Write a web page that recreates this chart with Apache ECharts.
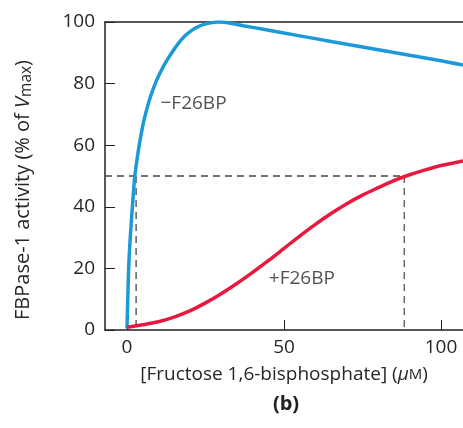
<!DOCTYPE html>
<html><head><meta charset="utf-8">
<script src="https://cdn.jsdelivr.net/npm/echarts@6/dist/echarts.min.js"></script>
<style>html,body{margin:0;padding:0;background:#fff}#c{width:463px;height:428px}</style>
</head><body><div id="c"></div>
<script>
// Blue: -F26BP (x: [Fructose 1,6-bisphosphate] µM, y: % of Vmax)
const minusF26BP_x = [0, 0.3, 0.6, 1.2, 1.8, 2.5, 3.5, 4.5, 5.5, 6.8, 8, 9.5, 11, 12.1, 14, 16.3, 18.5, 20.6, 22.7, 24.8, 27, 29, 31, 33.5, 37, 43, 50, 60, 70, 80, 90, 100, 107];
const minusF26BP_y = [0.5, 12, 21.7, 32.5, 41, 50, 57.5, 63.5, 68.5, 73.5, 77.3, 81.2, 84.4, 86.5, 89.6, 93, 95.5, 97.3, 98.5, 99.3, 99.8, 100, 99.9, 99.5, 98.8, 97.7, 96.4, 94.6, 92.8, 91, 89.2, 87.4, 86];
// Red: +F26BP
const plusF26BP_x = [0, 5, 10, 15, 20, 25, 30, 35, 40, 45, 50, 55, 60, 65, 70, 75, 80, 85, 90, 95, 100, 107];
const plusF26BP_y = [0.9, 1.7, 2.7, 4.2, 6.2, 8.8, 11.8, 15.1, 18.7, 22.5, 26.5, 30.5, 34.3, 37.8, 41.0, 43.8, 46.2, 48.5, 50.4, 52.0, 53.4, 54.9];
// Half-maximal guides
const halfLevel = 50;
const halfX = [2.9, 88.3];
const xTicks = [0, 50, 100];
const yTicks = [0, 20, 40, 60, 80, 100];
// Curve labels (anchor in data coords)
const curveLabels = [['−F26BP', 10.5, 73.6], ['+F26BP', 45, 16.8]];

const font = 'Open Sans';
const axisColor = '#231f20';
const textColor = '#262626';
const pair = (xs, ys) => xs.map((x, i) => [x, ys[i]]);
const xMin = -7, xMax = 107;

const chart = echarts.init(document.getElementById('c'), null, {renderer: 'canvas'});
chart.setOption({
  animation: false,
  textStyle: {fontFamily: font},
  grid: {left: 105, top: 22, right: 0, bottom: 98, containLabel: false},
  title: {
    text: '(b)', left: 281, top: 389, textAlign: 'center',
    textStyle: {fontFamily: font, fontWeight: 'bold', fontSize: 20, color: '#231f20'}
  },
  xAxis: [{
    type: 'value', min: xMin, max: xMax, position: 'bottom',
    axisLine: {show: true, onZero: false, lineStyle: {color: axisColor, width: 1.5}},
    axisTick: {show: true, inside: true, length: 10, customValues: xTicks, lineStyle: {color: axisColor, width: 1}},
    axisLabel: {show: true, customValues: xTicks, margin: 8, fontSize: 19, color: textColor, fontFamily: font},
    splitLine: {show: false},
    name: '[Fructose 1,6-bisphosphate] ({i|μ}{m|M})',
    nameLocation: 'middle', nameGap: 35,
    nameTextStyle: {fontSize: 19, color: textColor, fontFamily: font,
      rich: {i: {fontSize: 19, fontStyle: 'italic', color: textColor, fontFamily: font},
             m: {fontSize: 15, color: textColor, fontFamily: font}}}
  }, {
    type: 'value', min: xMin, max: xMax, position: 'top',
    axisLine: {show: true, onZero: false, lineStyle: {color: axisColor, width: 1.5}},
    axisTick: {show: false}, axisLabel: {show: false}, splitLine: {show: false}
  }],
  yAxis: {
    type: 'value', min: 0, max: 100, interval: 20,
    axisLine: {show: true, onZero: false, lineStyle: {color: axisColor, width: 1.5}},
    axisTick: {show: true, inside: true, length: 10, lineStyle: {color: axisColor, width: 1}},
    axisLabel: {margin: 10, fontSize: 19, color: textColor, fontFamily: font},
    splitLine: {show: false},
    name: 'FBPase-1 activity (% of {i|V}{s|max})',
    nameLocation: 'middle', nameGap: 70, nameRotate: 90,
    nameTextStyle: {fontSize: 20, color: textColor, fontFamily: font, padding: [0, 28, 0, 0],
      rich: {i: {fontSize: 20, fontStyle: 'italic', color: textColor, fontFamily: font},
             s: {fontSize: 15.5, color: textColor, fontFamily: font, padding: [8, 0, 0, 0]}}}
  },
  series: [
    {
      type: 'line', data: [[xMin, halfLevel], [halfX[1], halfLevel]], symbol: 'none', silent: true,
      lineStyle: {color: '#444', width: 1.3, type: [7, 5]}, z: 1
    },
    {
      type: 'line', data: [[halfX[0], halfLevel], [halfX[0], 0]], symbol: 'none', silent: true,
      lineStyle: {color: '#444', width: 1.3, type: [7, 5]}, z: 1
    },
    {
      type: 'line', data: [[halfX[1], halfLevel], [halfX[1], 0]], symbol: 'none', silent: true,
      lineStyle: {color: '#555', width: 1.3, type: [7, 5]}, z: 1
    },
    {
      name: '−F26BP', type: 'line', data: pair(minusF26BP_x, minusF26BP_y),
      smooth: 0.3, symbol: 'none',
      lineStyle: {color: '#1b9ad7', width: 3.5}, z: 3
    },
    {
      name: '+F26BP', type: 'line', data: pair(plusF26BP_x, plusF26BP_y),
      smooth: 0.3, symbol: 'none',
      lineStyle: {color: '#e8193f', width: 3.5}, z: 4
    },
    {
      type: 'scatter', silent: true, z: 5,
      data: curveLabels.map(d => ({value: [d[1], d[2]], name: d[0]})),
      symbolSize: 1, itemStyle: {color: 'rgba(0,0,0,0)'},
      label: {show: true, formatter: p => p.name, position: 'right', distance: 0,
              fontSize: 19, color: textColor, fontFamily: font}
    }
  ]
});
</script></body></html>
